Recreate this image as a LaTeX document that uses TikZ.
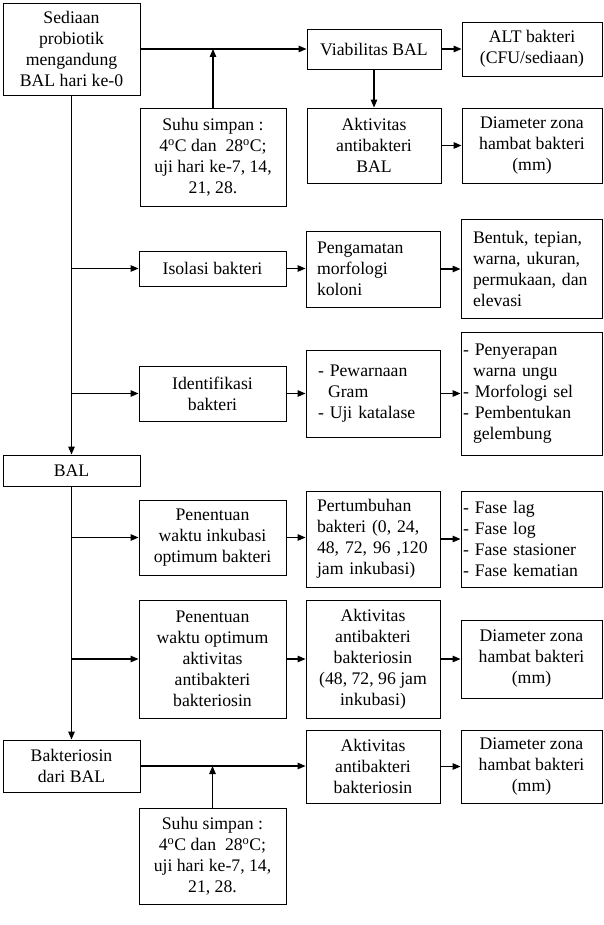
\documentclass[tikz,border=0pt]{standalone}
\usepackage{fontspec}
\setmainfont{Liberation Serif}
\usetikzlibrary{arrows.meta}
\begin{document}
\begin{tikzpicture}[x=1pt,y=-1pt,
  box/.style={draw, line width=0.9pt, inner sep=0pt, align=center,
    font=\fontsize{17.7}{21}\selectfont},
  lbox/.style={box, align=left},
  arr/.style={line width=1.2pt, -{Triangle[length=8pt,width=6.5pt]}}]
\useasboundingbox (0,0) rectangle (604,925);
% top section
\node[box, minimum width=137pt, minimum height=92pt] (sed) at (71.5,49) {Sediaan\\probiotik\\mengandung\\BAL hari ke-0};
\node[box, minimum width=146pt, minimum height=98pt] (suhuA) at (213,157) {Suhu simpan :\\4\textsuperscript{o}C dan\ \ 28\textsuperscript{o}C;\\uji hari ke-7, 14,\\21, 28.};
\node[box, minimum width=134pt, minimum height=40pt] (viab) at (374,49) {Viabilitas BAL};
\node[box, minimum width=140pt, minimum height=54pt] (alt) at (532,49) {ALT bakteri\\(CFU/sediaan)};
\node[box, minimum width=134pt, minimum height=75pt] (aktA) at (374,145.5) {Aktivitas\\antibakteri\\BAL};
\node[box, minimum width=140pt, minimum height=75pt] (diaA) at (532,145.5) {Diameter zona\\hambat bakteri\\(mm)};
% isolasi
\node[box, minimum width=147pt, minimum height=35pt] (iso) at (212.5,268.5) {Isolasi bakteri};
\node[lbox, minimum width=134pt, minimum height=76pt, text width=112pt, inner xsep=11pt] (peng) at (373,269) {Pengamatan\\morfologi\\koloni};
\node[lbox, minimum width=141pt, minimum height=99pt, text width=117pt, inner xsep=12pt] (bent) at (531.5,268.5) {Bentuk, tepian,\\warna, ukuran,\\permukaan, dan\\elevasi};
% identifikasi
\node[box, minimum width=147pt, minimum height=55pt] (ident) at (212.5,393.5) {Identifikasi\\bakteri};
\node[lbox, minimum width=134pt, minimum height=87pt, text width=110pt, inner xsep=12pt] (pew) at (373,393.5) {- Pewarnaan\\\hspace*{10pt}Gram\\- Uji katalase};
\node[lbox, minimum width=141pt, minimum height=123pt, text width=137pt, inner xsep=2pt] (peny) at (531.5,393.5) {- Penyerapan\\\hspace*{10pt}warna ungu\\- Morfologi sel\\- Pembentukan\\\hspace*{10pt}gelembung};
% BAL
\node[box, minimum width=137pt, minimum height=31pt] (bal) at (71.5,470.5) {BAL};
\node[box, minimum width=147pt, minimum height=75pt] (penA) at (212.5,537.5) {Penentuan\\waktu inkubasi\\optimum bakteri};
\node[lbox, minimum width=134pt, minimum height=96pt, text width=112pt, inner xsep=11pt] (pert) at (373,539) {Pertumbuhan\\bakteri (0, 24,\\48, 72, 96 ,120\\jam inkubasi)};
\node[lbox, minimum width=141pt, minimum height=96pt, text width=137pt, inner xsep=2pt] (fase) at (531.5,539) {- Fase lag\\- Fase log\\- Fase stasioner\\- Fase kematian};
\node[box, minimum width=147pt, minimum height=118pt] (penB) at (212.5,659) {Penentuan\\waktu optimum\\aktivitas\\antibakteri\\bakteriosin};
\node[box, minimum width=134pt, minimum height=118pt] (aktB) at (373,659) {Aktivitas\\antibakteri\\bakteriosin\\(48, 72, 96 jam\\inkubasi)};
\node[box, minimum width=141pt, minimum height=78pt] (diaB) at (531.5,659) {Diameter zona\\hambat bakteri\\(mm)};
% bakteriosin
\node[box, minimum width=137pt, minimum height=52pt] (bak) at (71.5,766) {Bakteriosin\\dari BAL};
\node[box, minimum width=147pt, minimum height=96pt] (suhuB) at (212.5,856) {Suhu simpan :\\4\textsuperscript{o}C dan\ \ 28\textsuperscript{o}C;\\uji hari ke-7, 14,\\21, 28.};
\node[box, minimum width=134pt, minimum height=73pt] (aktC) at (373,766.5) {Aktivitas\\antibakteri\\bakteriosin};
\node[box, minimum width=141pt, minimum height=73pt] (diaC) at (531.5,766.5) {Diameter zona\\hambat bakteri\\(mm)};
% connectors
\draw[arr] (sed.east) -- (viab.west);
\draw[arr] (suhuA.north) -- (suhuA.north |- sed.east);
\draw[arr] (viab.east) -- (alt.west);
\draw[arr] (viab.south) -- (aktA.north);
\draw[arr] (aktA.east) -- (diaA.west);
\draw[arr] (sed.south) -- (bal.north);
\draw[arr] (sed.south |- iso.west) -- (iso.west);
\draw[arr] (iso.east) -- (iso.east -| peng.west);
\draw[arr] (peng.east) -- (peng.east -| bent.west);
\draw[arr] (sed.south |- ident.west) -- (ident.west);
\draw[arr] (ident.east) -- (pew.west);
\draw[arr] (pew.east) -- (peny.west);
\draw[arr] (bal.south) -- (bak.north);
\draw[arr] (bal.south |- penA.west) -- (penA.west);
\draw[arr] (penA.east) -- (penA.east -| pert.west);
\draw[arr] (pert.east) -- (fase.west);
\draw[arr] (bal.south |- penB.west) -- (penB.west);
\draw[arr] (penB.east) -- (aktB.west);
\draw[arr] (aktB.east) -- (diaB.west);
\draw[arr] (bak.east) -- (bak.east -| aktC.west);
\draw[arr] (suhuB.north) -- (suhuB.north |- bak.east);
\draw[arr] (aktC.east) -- (diaC.west);
\end{tikzpicture}
\end{document}
